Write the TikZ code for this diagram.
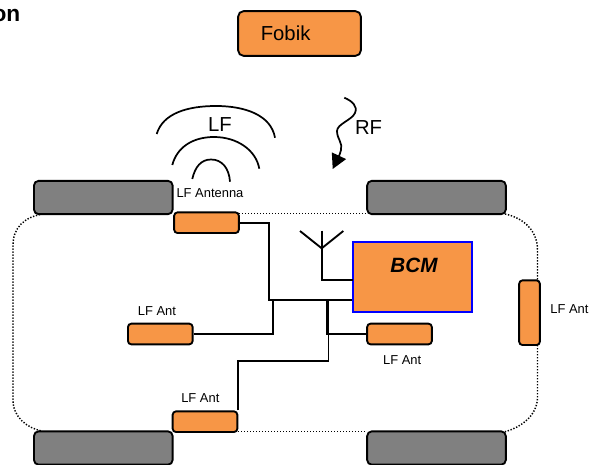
\documentclass[tikz,border=0pt]{standalone}
\usepackage{fontspec}
\setmainfont{Liberation Sans}
\usetikzlibrary{arrows.meta,positioning}
\definecolor{Key}{HTML}{F79646}
\definecolor{Wheel}{HTML}{808080}
\begin{document}
\begin{tikzpicture}[
 x=0.75pt,y=-0.75pt,
 node distance=2.5pt,
 box/.style={draw=black,line width=1.4pt,rounded corners=2.5pt,fill=Key,inner sep=0pt},
 ant/.style={box,minimum width=48.5pt,minimum height=15.5pt},
 tyre/.style={draw=black,line width=1.4pt,rounded corners=3.5pt,fill=Wheel,inner sep=0pt,minimum width=104pt,minimum height=25pt},
 wire/.style={draw=black,line width=1.4pt},
 body/.style={draw=black,line width=1.1pt,dash pattern=on 1pt off 1.25pt},
 wave/.style={draw=black,line width=1.3pt},
 small/.style={font=\fontsize{9.7}{11}\selectfont,inner sep=0pt},
 big/.style={font=\fontsize{15.2}{18}\selectfont,inner sep=0pt}
]
\useasboundingbox (0,0) rectangle (591,464);
\node[font=\bfseries\fontsize{17}{20}\selectfont,anchor=east,inner sep=0pt] (title) at (20.5,15.5) {on};
% body outline
\coordinate (bodyTL) at (43,214);
\coordinate (bodyBL) at (41.5,431);
\coordinate (bodyBR) at (505,431.7);
\coordinate (bodyTR) at (505,214);
\coordinate (roofL) at (239,213.5);
\coordinate (roofR) at (367,213.5);
\coordinate (sillL) at (238,431.5);
\coordinate (sillR) at (367,431.5);
\draw[body] (bodyTL) .. controls (24,217) and (13,228) .. (13,245) -- (13,400) .. controls (13,418) and (28,428) .. (bodyBL);
\draw[body] (bodyTR) .. controls (520,217) and (537.5,228) .. (537.5,250) -- (537.5,280);
\draw[body] (537.5,345) -- (537.5,398) .. controls (537,415) and (522,427) .. (bodyBR);
\draw[body] (roofL) -- (roofR);
\draw[body] (sillL) -- (sillR);
\node[box,big,rounded corners=4pt,minimum width=92pt,minimum height=33.5pt,text width=92pt] (fob) at (299.5,33.5) {\hspace*{17pt}Fobik};
% wheels
\node[tyre] (wheelTL) at (103.3,197.5) {};
\node[tyre] (wheelTR) at (436.5,197.5) {};
\node[tyre] (wheelBL) at (103.3,448) {};
\node[tyre] (wheelBR) at (436.5,448) {};
% antennas
\node[ant] (antTop) at (206.5,222.7) {};
\node[ant] (antLeft) at (160.3,334) {};
\node[ant] (antBot) at (205,421.7) {};
\node[ant] (antMid) at (399.5,334) {};
\node[box,minimum width=15.5pt,minimum height=48.5pt] (antRight) at (529.5,312.7) {};
\node[small,above=10pt of antTop,xshift=2.6pt] (lblTop) {LF Antenna};
\node[small,above=5.5pt of antLeft,xshift=-2.5pt] (lblLeft) {LF Ant};
\node[small,above=5.5pt of antBot,xshift=-3.5pt] (lblBot) {LF Ant};
\node[small,below=7.5pt of antMid,xshift=2pt] (lblMid) {LF Ant};
\node[small,right=7pt of antRight,yshift=2.5pt] (lblRight) {LF Ant};
% controller
\node[draw=blue,line width=1.5pt,fill=Key,inner sep=0pt,minimum width=89pt,minimum height=52.5pt] (bcm) at (412.3,277) {};
\node[big,font=\bfseries\itshape\fontsize{15.5}{18}\selectfont] (bcmText) at (414,265) {BCM};
% wiring
\coordinate (busL) at (269.3,299.7);
\coordinate (tapA) at (273.3,299.7);
\coordinate (tapB) at (327,299.7);
\coordinate (tapC) at (328.5,299.7);
\coordinate (stepY) at (0,361.3);
\coordinate (stepC) at (antBot.north east |- stepY);
\draw[wire] (antTop.east) -| (busL) -- (bcm.west |- busL);
\draw[wire] (antLeft.east) -| (tapA);
\draw[wire] (antMid.west) -| (tapB);
\draw[wire] (antBot.north east) -- (stepC) -| (tapC);
% rooftop aerial
\coordinate (mast) at (321.7,230.7);
\coordinate (fork) at (321.7,248.3);
\coordinate (armL) at (300,231);
\coordinate (armR) at (343.3,231);
\coordinate (feed) at (353,280.3);
\draw[wire] (mast) |- (feed);
\draw[wire] (armL) -- (fork) -- (armR);
% LF waves
\coordinate (waveA) at (156.7,134);
\coordinate (waveB) at (275,137.7);
\coordinate (waveC) at (172.3,165);
\coordinate (waveD) at (259.3,168.7);
\coordinate (waveE) at (192.3,179);
\coordinate (waveF) at (230,181.7);
\draw[wave] (waveA) .. controls (163,113) and (188,106) .. (216,106) .. controls (245,106) and (271,115) .. (waveB);
\draw[wave] (waveC) .. controls (177,147) and (193,137) .. (214,137) .. controls (237,137) and (256,150) .. (waveD);
\draw[wave] (waveE) .. controls (195,167) and (201,159.5) .. (211,159.5) .. controls (222,159.5) and (229,168) .. (waveF);
\node[big] (lblLF) at (220,124.5) {LF};
% RF squiggle
\coordinate (rfStart) at (344.3,97.7);
\coordinate (rfTip) at (332.7,169);
\draw[wave,-{Triangle[length=11pt,width=11.5pt]}] (rfStart) .. controls (352,101) and (358,106) .. (355,113) .. controls (352,120) and (337,124) .. (337,131) .. controls (337,139) and (343,143) .. (341,150) .. controls (340,155) and (336,162) .. (rfTip);
\node[big] (lblRF) at (368.5,128) {RF};
\end{tikzpicture}
\end{document}
